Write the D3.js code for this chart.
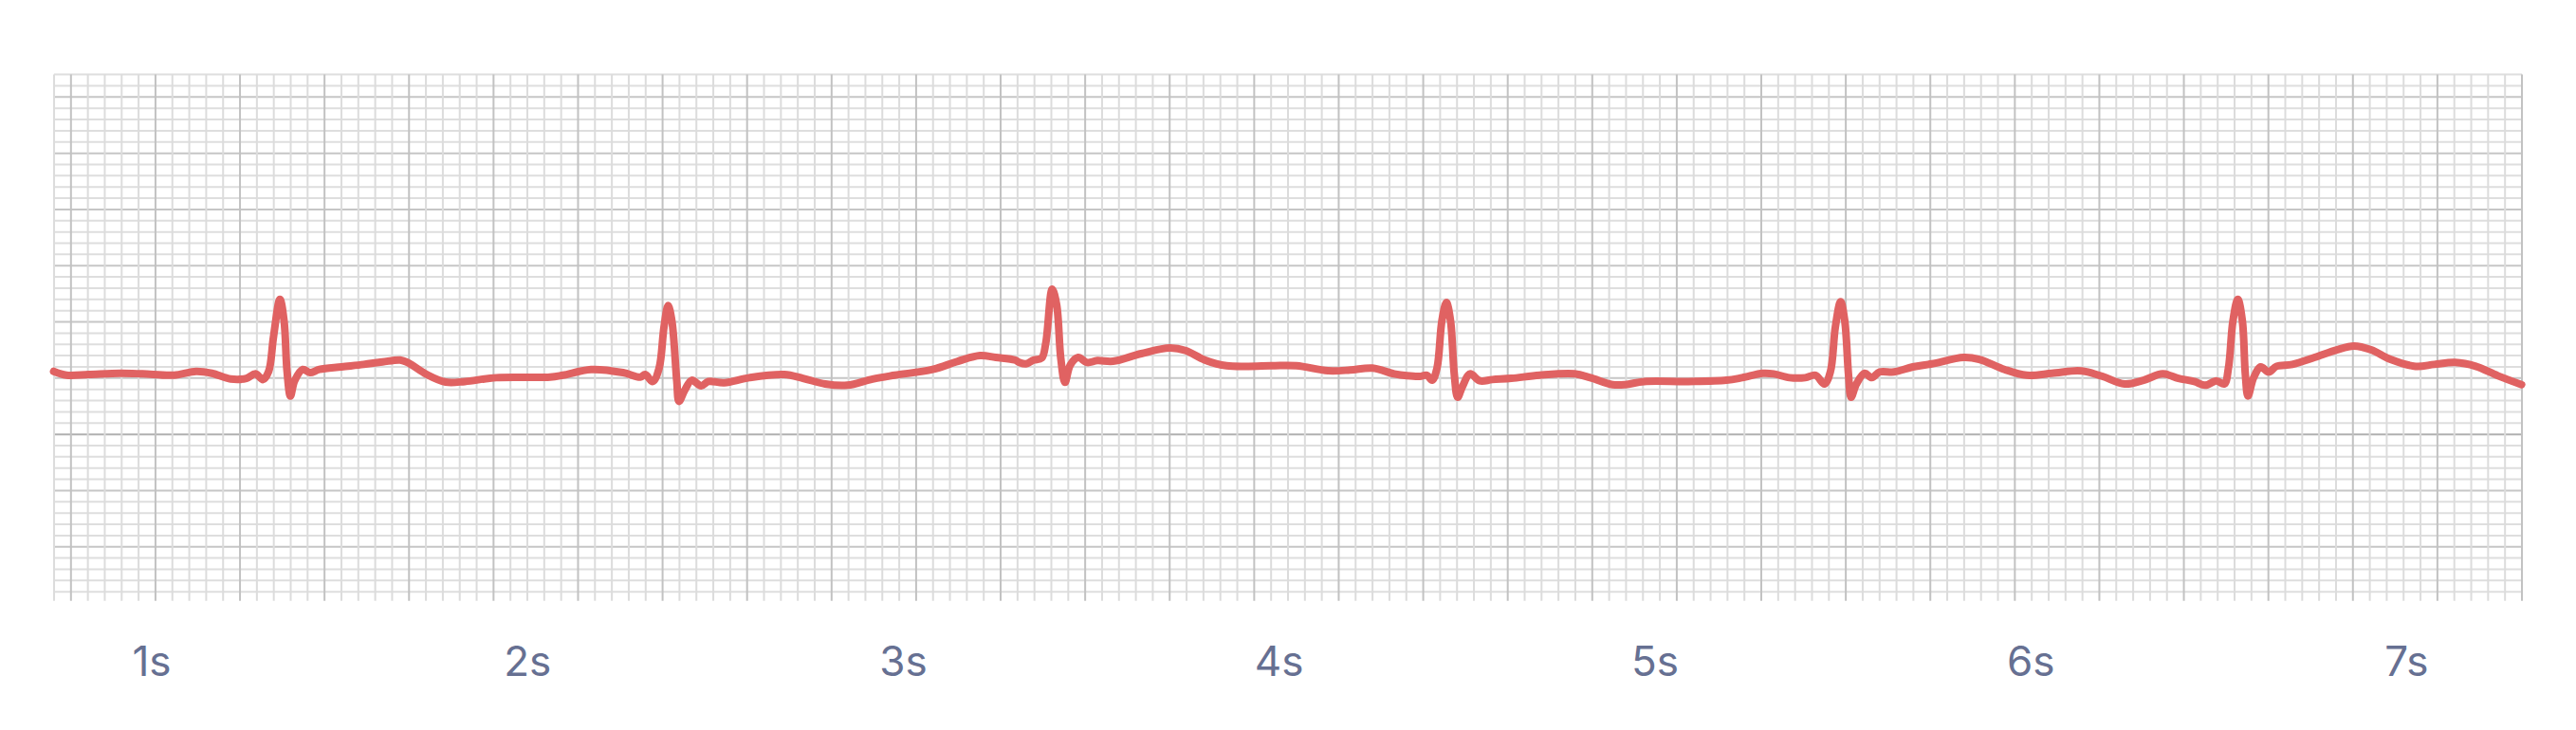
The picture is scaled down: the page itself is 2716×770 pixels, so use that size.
<!DOCTYPE html>
<html>
<head>
<meta charset="utf-8">
<script src="https://cdn.jsdelivr.net/npm/d3@7"></script>
<style>
  body { margin: 0; background: #ffffff; }
</style>
</head>
<body>
<div id="canvas"></div>
<script>
// ecg trace, time in seconds, amplitude in mV
var times = [0.739, 0.773, 0.832, 0.916, 0.975, 1.059, 1.118, 1.160, 1.210, 1.252, 1.276, 1.296, 1.311, 1.324, 1.341, 1.352, 1.360, 1.369, 1.380, 1.402,
  1.421, 1.446, 1.505, 1.564, 1.614, 1.661, 1.681, 1.732, 1.782, 1.833, 1.917, 2.060, 2.094, 2.169, 2.254, 2.300, 2.313, 2.333, 2.350, 2.363,
  2.374, 2.384, 2.397, 2.403, 2.418, 2.437, 2.462, 2.481, 2.523, 2.590, 2.683, 2.733, 2.792, 2.851, 2.918, 2.977, 3.078, 3.145, 3.204, 3.246,
  3.297, 3.309, 3.326, 3.347, 3.368, 3.379, 3.396, 3.408, 3.419, 3.430, 3.444, 3.465, 3.489, 3.516, 3.558, 3.633, 3.709, 3.751, 3.802, 3.860,
  3.978, 4.046, 4.130, 4.189, 4.248, 4.306, 4.340, 4.374, 4.393, 4.407, 4.420, 4.433, 4.445, 4.456, 4.466, 4.475, 4.487, 4.508, 4.534, 4.567,
  4.618, 4.693, 4.786, 4.828, 4.887, 4.921, 4.971, 5.089, 5.190, 5.232, 5.287, 5.316, 5.358, 5.400, 5.427, 5.451, 5.467, 5.480, 5.494, 5.505,
  5.515, 5.522, 5.536, 5.558, 5.577, 5.598, 5.636, 5.686, 5.737, 5.821, 5.863, 5.930, 5.989, 6.056, 6.124, 6.149, 6.191, 6.250, 6.300, 6.351,
  6.393, 6.435, 6.464, 6.494, 6.515, 6.526, 6.538, 6.551, 6.563, 6.571, 6.578, 6.593, 6.612, 6.633, 6.654, 6.696, 6.755, 6.814, 6.860, 6.906,
  6.957, 7.024, 7.074, 7.129, 7.184, 7.243, 7.306]
var millivolts = [0.560, 0.526, 0.532, 0.543, 0.538, 0.526, 0.560, 0.543, 0.492, 0.498, 0.538, 0.487, 0.560, 0.869, 1.201, 1.010, 0.560, 0.341, 0.476, 0.577,
  0.549, 0.577, 0.600, 0.622, 0.644, 0.661, 0.639, 0.532, 0.465, 0.470, 0.504, 0.509, 0.526, 0.577, 0.549, 0.509, 0.532, 0.470, 0.589, 0.954,
  1.145, 1.010, 0.476, 0.293, 0.391, 0.481, 0.431, 0.470, 0.459, 0.504, 0.532, 0.498, 0.448, 0.437, 0.492, 0.526, 0.577, 0.650, 0.701, 0.684,
  0.661, 0.639, 0.627, 0.661, 0.678, 0.813, 1.291, 1.150, 0.673, 0.462, 0.616, 0.684, 0.639, 0.656, 0.650, 0.718, 0.768, 0.745, 0.661, 0.610,
  0.610, 0.610, 0.566, 0.572, 0.589, 0.538, 0.521, 0.515, 0.526, 0.481, 0.589, 1.010, 1.173, 1.010, 0.532, 0.330, 0.420, 0.538, 0.476, 0.487,
  0.498, 0.526, 0.538, 0.504, 0.442, 0.442, 0.470, 0.470, 0.481, 0.504, 0.543, 0.538, 0.504, 0.504, 0.526, 0.448, 0.560, 0.954, 1.179, 1.010,
  0.532, 0.330, 0.448, 0.543, 0.504, 0.555, 0.555, 0.600, 0.627, 0.684, 0.667, 0.577, 0.526, 0.543, 0.566, 0.557, 0.515, 0.448, 0.481, 0.538,
  0.498, 0.470, 0.437, 0.476, 0.448, 0.589, 1.010, 1.201, 1.010, 0.532, 0.341, 0.504, 0.600, 0.555, 0.605, 0.622, 0.684, 0.751, 0.785, 0.751,
  0.667, 0.605, 0.622, 0.639, 0.605, 0.521, 0.442]

var tick_seconds = [1, 2, 3, 4, 5, 6, 7]
var tick_labels = ['1s', '2s', '3s', '4s', '5s', '6s', '7s']

var time_domain = [0.74, 7.307]
var mv_domain = [-1.4, 3.2]
var grid_cols = 146

function initialize() {
    var intFrameWidth = 2716
    var intFrameHeight = 770
    var svg = d3.select("#canvas")
        .append("svg")
        .attr("width", intFrameWidth)
        .attr("height", intFrameHeight)

    var x = d3.scaleLinear().domain(time_domain).range([57, 2659])
    var y = d3.scaleLinear().domain(mv_domain).range([624.2, 78.6])
    var gridX = d3.scaleLinear().domain([0, grid_cols]).range([57, 2659])
    var plotTop = y(3.2)
    var plotBottom = y(-1.48)

    let grid = svg.append('g').attr('id', 'grid')

    // horizontal lines, one every 0.1 mV
    let rows = d3.range(-14, 33).map(function(k) { return k / 10 })
    grid.selectAll('line.row')
        .data(rows)
        .enter().append('line')
        .attr('class', 'row')
        .attr('x1', gridX(0))
        .attr('x2', gridX(grid_cols))
        .attr('y1', function(d) { return y(d) })
        .attr('y2', function(d) { return y(d) })
        .attr('stroke', function(d) {
            let k = Math.round(d * 10)
            if (k == 0) return '#b0b0b0'
            return k % 5 == 0 ? '#c6c6c6' : '#dedede'
        })
        .attr('stroke-width', 2)

    // vertical lines
    let cols = d3.range(0, grid_cols + 1)
    grid.selectAll('line.col')
        .data(cols)
        .enter().append('line')
        .attr('class', 'col')
        .attr('x1', function(d) { return gridX(d) })
        .attr('x2', function(d) { return gridX(d) })
        .attr('y1', plotTop)
        .attr('y2', plotBottom)
        .attr('stroke', function(d) { return (grid_cols - d) % 5 == 0 ? '#c2c2c2' : '#dcdcdc' })
        .attr('stroke-width', 2)

    let points = times.map(function(t, i) { return [t, millivolts[i]] })
    let line = d3.line()
        .x(function(d) { return x(d[0]) })
        .y(function(d) { return y(d[1]) })
        .curve(d3.curveCatmullRom.alpha(0.5))

    svg.append('path')
        .datum(points)
        .attr('d', line)
        .attr('fill', 'none')
        .attr('stroke', '#e06262')
        .attr('stroke-width', 8)
        .attr('stroke-linejoin', 'round')
        .attr('stroke-linecap', 'round')

    svg.append('g').attr('id', 'labels')
        .selectAll('text')
        .data(tick_seconds)
        .enter().append('text')
        .attr('x', function(d) { return x(d) })
        .attr('y', 713)
        .attr('text-anchor', 'middle')
        .attr('font-family', 'Inter, "Open Sans", sans-serif')
        .attr('font-size', 44)
        .attr('fill', '#667092')
        .text(function(d, i) { return tick_labels[i] })
}

initialize()
</script>
</body>
</html>
